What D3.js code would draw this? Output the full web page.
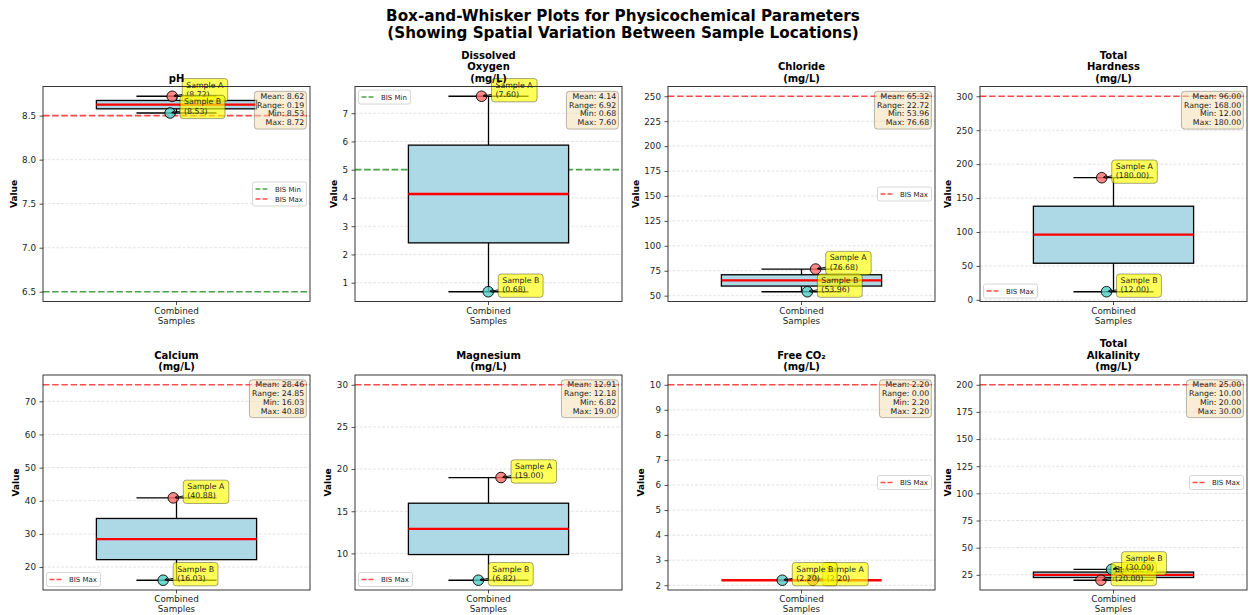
<!DOCTYPE html>
<html>
<head>
<meta charset="utf-8">
<script src="https://cdn.jsdelivr.net/npm/d3@7"></script>
<style>
  body { margin: 0; background: #fff; }
  svg { font-family: "DejaVu Sans", sans-serif; }
</style>
</head>
<body>
<script>
// parameters, one panel each
const params = ['pH', 'Dissolved\nOxygen\n(mg/L)', 'Chloride\n(mg/L)', 'Total\nHardness\n(mg/L)',
  'Calcium\n(mg/L)', 'Magnesium\n(mg/L)', 'Free CO₂\n(mg/L)', 'Total\nAlkalinity\n(mg/L)']
const sampleA = [8.72, 7.60, 76.68, 180.00, 40.88, 19.00, 2.20, 20.00]
const sampleB = [8.53, 0.68, 53.96, 12.00, 16.03, 6.82, 2.20, 30.00]
// jittered x of the points (box sits at 1)
const jitterA = [0.984, 0.974, 1.053, 0.956, 0.988, 1.047, 1.042, 0.953]
const jitterB = [0.976, 0.999, 1.022, 0.974, 0.950, 0.962, 0.928, 0.993]
const bisMin = [6.5, 5, null, null, null, null, null, null]
const bisMax = [8.5, null, 250, 300, 75, 30, 10, 200]
const yTicks = [
  [6.5, 7.0, 7.5, 8.0, 8.5],
  [1, 2, 3, 4, 5, 6, 7],
  [50, 75, 100, 125, 150, 175, 200, 225, 250],
  [0, 50, 100, 150, 200, 250, 300],
  [20, 30, 40, 50, 60, 70],
  [10, 15, 20, 25, 30],
  [2, 3, 4, 5, 6, 7, 8, 9, 10],
  [25, 50, 75, 100, 125, 150, 175, 200]
]
const yTickFmt = ['.1f', 'd', 'd', 'd', 'd', 'd', 'd', 'd']
const legendLoc = ['center right', 'upper left', 'center right', 'lower left',
  'lower left', 'lower left', 'center right', 'center right']
const xTickLabel = ['Combined', 'Samples']
const sampleNames = ['Sample A', 'Sample B']
const title = ['Box-and-Whisker Plots for Physicochemical Parameters',
  '(Showing Spatial Variation Between Sample Locations)']

const W = 1250, H = 615
const colX = [43, 355, 668, 980]
const rowY = [86.5, 375]
const pw = 267, ph = 215
const colorA = '#FF6B6B', colorB = '#4ECDC4'

// python-style .2f (half-even on exact ties)
function fix2 (v) {
  if (Number.isInteger(v * 8) && Math.round(v * 1000) % 10 === 5) {
    const f = Math.floor(v * 100)
    return ((f % 2 === 0 ? f : f + 1) / 100).toFixed(2)
  }
  return v.toFixed(2)
}

const svg = d3.select('body').append('svg')
  .attr('width', W)
  .attr('height', H)

svg.append('g').selectAll('text')
  .data(title)
  .enter().append('text')
  .attr('x', 623)
  .attr('y', (d, i) => 20.5 + i * 17)
  .attr('text-anchor', 'middle')
  .attr('font-size', 15.2)
  .attr('font-weight', 'bold')
  .text(d => d)

params.forEach(function (name, i) {
  const g = svg.append('g')
    .attr('transform', 'translate(' + colX[i % 4] + ',' + rowY[Math.floor(i / 4)] + ')')

  const vals = [sampleA[i], sampleB[i]].sort(d3.ascending)
  const q1 = d3.quantile(vals, 0.25), med = d3.quantile(vals, 0.5), q3 = d3.quantile(vals, 0.75)
  const lo = d3.min(vals), hi = d3.max(vals)

  const ext = vals.concat([bisMin[i], bisMax[i]].filter(v => v != null))
  let y0 = d3.min(ext), y1 = d3.max(ext)
  const pad = (y1 - y0) * 0.05
  const y = d3.scaleLinear().domain([y0 - pad, y1 + pad]).range([ph, 0])
  const x = d3.scaleLinear().domain([0.5, 1.5]).range([0, pw])

  // grid
  g.append('g').selectAll('line')
    .data(yTicks[i])
    .enter().append('line')
    .attr('x1', 0).attr('x2', pw)
    .attr('y1', d => y(d)).attr('y2', d => y(d))
    .attr('stroke', '#b0b0b0')
    .attr('stroke-opacity', 0.5)
    .attr('stroke-width', 0.7)
    .attr('stroke-dasharray', '3,1.5')

  // reference lines
  const refs = []
  if (bisMin[i] != null) refs.push({ v: bisMin[i], label: 'BIS Min', color: 'green' })
  if (bisMax[i] != null) refs.push({ v: bisMax[i], label: 'BIS Max', color: 'red' })
  g.append('g').selectAll('line')
    .data(refs)
    .enter().append('line')
    .attr('x1', 0).attr('x2', pw)
    .attr('y1', d => y(d.v)).attr('y2', d => y(d.v))
    .attr('stroke', d => d.color)
    .attr('stroke-opacity', 0.7)
    .attr('stroke-width', 1.7)
    .attr('stroke-dasharray', '6.4,2.8')

  // whiskers, caps, box, median
  const bx = g.append('g')
  bx.selectAll('.whisker')
    .data([[q3, hi], [q1, lo]])
    .enter().append('line')
    .attr('x1', x(1)).attr('x2', x(1))
    .attr('y1', d => y(d[0])).attr('y2', d => y(d[1]))
    .attr('stroke', '#000').attr('stroke-width', 1.3)
  bx.selectAll('.cap')
    .data([lo, hi])
    .enter().append('line')
    .attr('x1', x(0.85)).attr('x2', x(1.15))
    .attr('y1', d => y(d)).attr('y2', d => y(d))
    .attr('stroke', '#000').attr('stroke-width', 1.3)
  if (q3 > q1) {
    bx.append('rect')
      .attr('x', x(0.7)).attr('width', x(1.3) - x(0.7))
      .attr('y', y(q3)).attr('height', y(q1) - y(q3))
      .attr('fill', '#ADD8E6')
      .attr('stroke', '#000').attr('stroke-width', 1.3)
  }
  bx.append('line')
    .attr('x1', x(0.7)).attr('x2', x(1.3))
    .attr('y1', y(med)).attr('y2', y(med))
    .attr('stroke', 'red').attr('stroke-width', 2.3)

  // sample points
  const pts = [
    { name: sampleNames[0], v: sampleA[i], jx: jitterA[i], color: colorA },
    { name: sampleNames[1], v: sampleB[i], jx: jitterB[i], color: colorB }
  ]
  g.append('g').selectAll('circle')
    .data(pts)
    .enter().append('circle')
    .attr('cx', d => x(d.jx))
    .attr('cy', d => y(d.v))
    .attr('r', 5.3)
    .attr('fill', d => d.color)
    .attr('fill-opacity', 0.8)
    .attr('stroke', '#000')
    .attr('stroke-width', 0.9)

  // annotations
  pts.forEach(function (p) {
    const px = x(p.jx), py = y(p.v)
    const a = g.append('g')
    const box = a.append('rect')
    const t = a.append('text')
      .attr('font-size', 7.8)
      .attr('fill', '#222')
    t.append('tspan').attr('x', px + 14).attr('y', py - 8.7).text(p.name)
    t.append('tspan').attr('x', px + 14).attr('y', py + 0.5).text('(' + fix2(p.v) + ')')
    const tw = t.node().getBBox().width
    const bxl = px + 10, bxr = px + 14 + tw + 3.8, byt = py - 17.7, byb = py + 5.6
    box.attr('x', bxl).attr('y', byt)
      .attr('width', bxr - bxl).attr('height', byb - byt)
      .attr('rx', 3)
      .attr('fill', 'yellow').attr('fill-opacity', 0.65)
      .attr('stroke', '#000').attr('stroke-opacity', 0.45).attr('stroke-width', 0.8)
    // arrow from box edge to the point
    const cx = (bxl + bxr) / 2, cy = (byt + byb) / 2
    const dx = px - cx, dy = py - cy
    const ts = Math.min(Math.abs((bxl - cx) / dx), dy !== 0 ? Math.abs((dy > 0 ? byb - cy : byt - cy) / dy) : Infinity)
    const sx = cx + dx * ts, sy = cy + dy * ts
    const len = Math.hypot(px - sx, py - sy)
    if (len > 2) {
      const ux = (px - sx) / len, uy = (py - sy) / len
      const ex = px - ux * 1.7, ey = py - uy * 1.7
      a.append('line')
        .attr('x1', sx).attr('y1', sy).attr('x2', ex).attr('y2', ey)
        .attr('stroke', '#000').attr('stroke-width', 0.9)
      a.append('path')
        .attr('d', 'M' + (ex - ux * 3.1 - uy * 1.6) + ',' + (ey - uy * 3.1 + ux * 1.6) +
          'L' + ex + ',' + ey +
          'L' + (ex - ux * 3.1 + uy * 1.6) + ',' + (ey - uy * 3.1 - ux * 1.6))
        .attr('fill', 'none').attr('stroke', '#000').attr('stroke-width', 0.9)
    }
  })

  // stats box
  const stats = ['Mean: ' + fix2(d3.mean(vals)), 'Range: ' + fix2(hi - lo),
    'Min: ' + fix2(lo), 'Max: ' + fix2(hi)]
  const sg = g.append('g')
  const sbox = sg.append('rect')
  const st = sg.append('text')
    .attr('font-size', 7.8)
    .attr('fill', '#222')
    .attr('text-anchor', 'end')
  st.selectAll('tspan')
    .data(stats)
    .enter().append('tspan')
    .attr('x', pw - 5.8)
    .attr('y', (d, k) => 12.4 + k * 8.7)
    .text(d => d)
  const sw = st.node().getBBox().width
  sbox.attr('x', pw - 5.8 - sw - 2.6).attr('y', 4.8)
    .attr('width', sw + 2.6 + 2.2).attr('height', 37.8)
    .attr('rx', 3)
    .attr('fill', '#F5DEB3').attr('fill-opacity', 0.55)
    .attr('stroke', '#000').attr('stroke-opacity', 0.35).attr('stroke-width', 0.8)

  // legend
  const lg = g.append('g')
  const lbox = lg.append('rect')
  const items = lg.selectAll('g')
    .data(refs)
    .enter().append('g')
    .attr('transform', (d, k) => 'translate(0,' + (k * 10) + ')')
  items.append('line')
    .attr('x1', 3).attr('x2', 17)
    .attr('y1', 7).attr('y2', 7)
    .attr('stroke', d => d.color)
    .attr('stroke-opacity', 0.7)
    .attr('stroke-width', 1.5)
    .attr('stroke-dasharray', '5,2')
  items.append('text')
    .attr('x', 22.5).attr('y', 9.5)
    .attr('font-size', 7)
    .attr('fill', '#222')
    .text(d => d.label)
  const lw = d3.max(items.selectAll('text').nodes(), n => n.getComputedTextLength()) + 22.5 + 3.5
  const lh = 4 + refs.length * 10
  lbox.attr('width', lw).attr('height', lh).attr('rx', 2)
    .attr('fill', '#fff').attr('fill-opacity', 0.8)
    .attr('stroke', '#ccc').attr('stroke-width', 0.8)
  let lx = 3.5, ly = 3.5
  if (legendLoc[i] === 'center right') { lx = pw - 3.5 - lw; ly = ph / 2 - lh / 2 }
  if (legendLoc[i] === 'lower left') { ly = ph - 3.5 - lh }
  lg.attr('transform', 'translate(' + lx + ',' + ly + ')')

  // frame
  g.append('rect')
    .attr('width', pw).attr('height', ph)
    .attr('fill', 'none')
    .attr('stroke', '#222').attr('stroke-width', 0.9)

  // axes
  const ya = g.append('g')
    .call(d3.axisLeft(y).tickValues(yTicks[i]).tickFormat(d3.format(yTickFmt[i])).tickSize(3.5).tickPadding(3.5))
  ya.select('.domain').remove()
  ya.selectAll('line').attr('stroke', '#222').attr('stroke-width', 0.8)
  ya.selectAll('text').attr('font-size', 8.75).attr('fill', '#222').attr('font-family', '"DejaVu Sans", sans-serif')

  g.append('line')
    .attr('x1', x(1)).attr('x2', x(1))
    .attr('y1', ph).attr('y2', ph + 3.5)
    .attr('stroke', '#222').attr('stroke-width', 0.8)
  g.append('g').selectAll('text')
    .data(xTickLabel)
    .enter().append('text')
    .attr('x', x(1))
    .attr('y', (d, k) => ph + 12 + k * 10)
    .attr('text-anchor', 'middle')
    .attr('font-size', 8.75)
    .attr('fill', '#222')
    .text(d => d)

  const yb = ya.node().getBBox()
  g.append('text')
    .attr('transform', 'translate(' + (yb.x - 5.5) + ',' + (ph / 2) + ') rotate(-90)')
    .attr('text-anchor', 'middle')
    .attr('font-size', 9)
    .attr('font-weight', 'bold')
    .text('Value')

  // panel title
  const lines = name.split('\n')
  g.append('g').selectAll('text')
    .data(lines)
    .enter().append('text')
    .attr('x', pw / 2)
    .attr('y', (d, k) => -5 - (lines.length - 1 - k) * 11.5)
    .attr('text-anchor', 'middle')
    .attr('font-size', 10)
    .attr('font-weight', 'bold')
    .text(d => d)
})
</script>
</body>
</html>
